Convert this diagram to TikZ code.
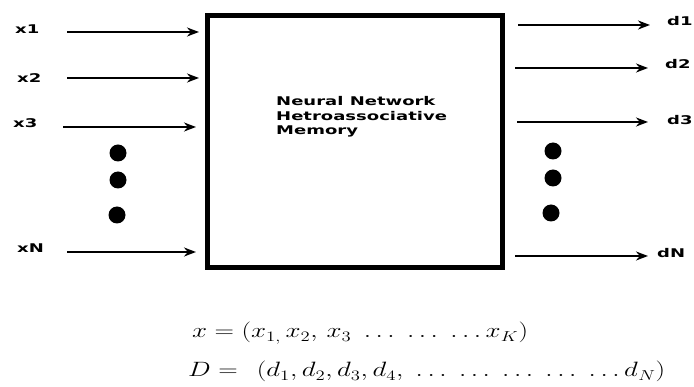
\documentclass[tikz,border=0pt]{standalone}
\usepackage{fontspec}
\newfontfamily\lblfont{DejaVu Sans}
\usetikzlibrary{arrows.meta}
\newcommand{\wide}[1]{\scalebox{1.5}[1]{#1}}
\newcommand{\wideq}[1]{\scalebox{1.3}[1]{#1}}
\tikzset{
  sig/.style={line width=2.4pt,-{Stealth[length=12pt,width=9pt]}},
  lbl/.style={font=\lblfont\bfseries\fontsize{12}{14.5}\selectfont,inner sep=0pt,anchor=base west},
  dotc/.style={circle,fill=black,minimum size=17pt,inner sep=0pt},
  eq/.style={font=\fontsize{20}{24}\selectfont,inner sep=0pt,anchor=base west}
}
\begin{document}
\begin{tikzpicture}[x=1pt,y=-1pt]
\useasboundingbox (0,0) rectangle (694,387);
\node[draw,line width=5pt,minimum width=295pt,minimum height=252pt,inner sep=0pt,anchor=north west] (box) at (205,13) {};
\node[lbl] (title) at (276,106) {\wide{\begin{tabular}[t]{@{}l@{}}Neural Network\\Hetroassociative\\Memory\end{tabular}}};
% inputs
\node[lbl] (x1) at (15,34) {\wide{x1}};
\node[lbl] (x2) at (17,83) {\wide{x2}};
\node[lbl] (x3) at (13,128) {\wide{x3}};
\node[lbl] (xN) at (17,253) {\wide{xN}};
\coordinate (x1s) at (67,32);  \coordinate (x1e) at (199,32);
\coordinate (x2s) at (67,78);  \coordinate (x2e) at (199,78);
\coordinate (x3s) at (63,127); \coordinate (x3e) at (196,127);
\coordinate (xNs) at (67,252); \coordinate (xNe) at (196,252);
\draw[sig] (x1s) -- (x1e);
\draw[sig] (x2s) -- (x2e);
\draw[sig] (x3s) -- (x3e);
\draw[sig] (xNs) -- (xNe);
\node[dotc] (ld1) at (118,153) {};
\node[dotc] (ld2) at (118,180) {};
\node[dotc] (ld3) at (117,215) {};
% outputs
\node[lbl] (d1) at (667,26) {\wide{d1}};
\node[lbl] (d2) at (665,69) {\wide{d2}};
\node[lbl] (d3) at (667,125) {\wide{d3}};
\node[lbl] (dN) at (657,258) {\wide{dN}};
\coordinate (d1s) at (518,25);  \coordinate (d1e) at (650,25);
\coordinate (d2s) at (515,68);  \coordinate (d2e) at (648,68);
\coordinate (d3s) at (517,122); \coordinate (d3e) at (648,122);
\coordinate (dNs) at (515,256); \coordinate (dNe) at (648,256);
\draw[sig] (d1s) -- (d1e);
\draw[sig] (d2s) -- (d2e);
\draw[sig] (d3s) -- (d3e);
\draw[sig] (dNs) -- (dNe);
\node[dotc] (rd1) at (553,151) {};
\node[dotc] (rd2) at (553,178) {};
\node[dotc] (rd3) at (551,213) {};
% equations
\node[eq] (eqx) at (192,338) {\wideq{$x = (x_{1,}\, x_2,\, x_3\ \ldots\ \ldots\ \ldots x_K)$}};
\node[eq] (eqd) at (188,377) {\wideq{$D = \hspace{0.45em} (d_1, d_2, d_3, d_4,\ \ldots\ \ldots\ \ldots\ \ldots\ \ldots d_N)$}};
\end{tikzpicture}
\end{document}
